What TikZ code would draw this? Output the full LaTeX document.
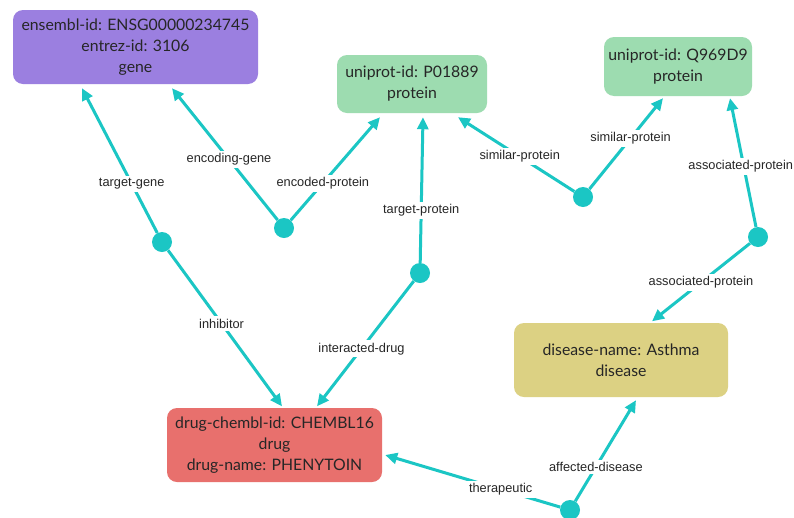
\documentclass[tikz,border=0pt]{standalone}
\usepackage{fontspec}
\setmainfont{Lato}
\newfontfamily\labelfont{Liberation Sans}
\usetikzlibrary{arrows.meta}

\definecolor{genefill}{HTML}{9B7FE0}
\definecolor{protfill}{HTML}{9DDCB0}
\definecolor{drugfill}{HTML}{E8706D}
\definecolor{disfill}{HTML}{DCD183}
\definecolor{linkcol}{HTML}{1BC6C4}
\definecolor{inkcol}{HTML}{262626}

\tikzset{
  entity/.style={rounded corners=10pt, draw=none, align=center, text=inkcol,
    font=\fontsize{15.8}{21}\selectfont, inner sep=0pt},
  relnode/.style={circle, fill=linkcol, minimum size=20pt, inner sep=0pt},
  link/.style={draw=linkcol, line width=3pt, -{Triangle[length=12pt,width=11pt]}},
  linklabel/.style={fill=white, text=inkcol, inner sep=2.5pt,
    font=\labelfont\fontsize{12.8}{14}\selectfont}
}

\begin{document}
\begin{tikzpicture}[x=1pt,y=-1pt]
\useasboundingbox[fill=white] (0,0) rectangle (794,517);

% entities
\node[entity, fill=genefill, minimum width=245pt, minimum height=74pt] (gene) at (135.5,47)
  {ensembl-id: ENSG00000234745\\entrez-id: 3106\\gene};
\node[entity, fill=protfill, minimum width=150pt, minimum height=58pt] (p1) at (412,84)
  {uniprot-id: P01889\\protein};
\node[entity, fill=protfill, minimum width=148pt, minimum height=59pt] (p2) at (678,66.5)
  {uniprot-id: Q969D9\\protein};
\node[entity, fill=drugfill, minimum width=215pt, minimum height=74pt] (drug) at (274.5,445)
  {drug-chembl-id: CHEMBL16\\drug\\drug-name: PHENYTOIN};
\node[entity, fill=disfill, minimum width=214pt, minimum height=74pt] (dis) at (621,360)
  {disease-name: Asthma\\disease};

% relation hubs
\node[relnode] (r1) at (162,242) {};
\node[relnode] (r2) at (284,228) {};
\node[relnode] (r3) at (420,273) {};
\node[relnode] (r4) at (583,197) {};
\node[relnode] (r5) at (758,237) {};
\node[relnode] (r6) at (570,510) {};

% links
\draw[link] (r1) -- node[linklabel, pos=0.34] {target-gene} ([xshift=-53.5pt,yshift=-4pt]gene.south);
\draw[link] (r1) -- node[linklabel, pos=0.47] {inhibitor} ([xshift=7.5pt,yshift=1.5pt]drug.north);
\draw[link] (r2) -- node[linklabel, pos=0.46] {encoding-gene} ([xshift=36.5pt,yshift=-4pt]gene.south);
\draw[link] (r2) -- node[linklabel, pos=0.36] {encoded-protein} ([xshift=-32pt,yshift=-4pt]p1.south);
\draw[link] (r3) -- node[linklabel, pos=0.36] {target-protein} ([xshift=11pt,yshift=-4pt]p1.south);
\draw[link] (r3) -- node[linklabel, pos=0.54] {interacted-drug} ([xshift=42.5pt,yshift=1.5pt]drug.north);
\draw[link] (r4) -- node[linklabel, pos=0.47] {similar-protein} ([xshift=46pt,yshift=-4pt]p1.south);
\draw[link] (r4) -- node[linklabel, pos=0.56] {similar-protein} ([xshift=-15pt,yshift=-2pt]p2.south);
\draw[link] (r5) -- node[linklabel, pos=0.47, xshift=-3pt] {associated-protein} ([xshift=52pt,yshift=-2pt]p2.south);
\draw[link] (r5) -- node[linklabel, pos=0.50] {associated-protein} ([xshift=31pt,yshift=1.5pt]dis.north);
\draw[link] (r6) -- node[linklabel, pos=0.34] {therapeutic} ([xshift=3pt,yshift=-10pt]drug.east);
\draw[link] (r6) -- node[linklabel, pos=0.34] {affected-disease} ([xshift=15pt,yshift=-3pt]dis.south);
\end{tikzpicture}
\end{document}
